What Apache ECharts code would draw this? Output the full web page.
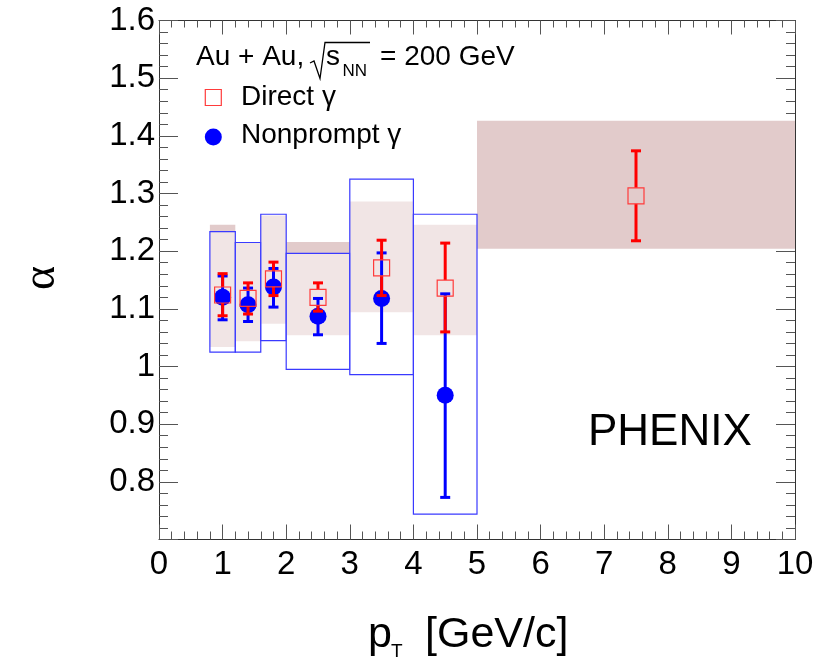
<!DOCTYPE html>
<html>
<head>
<meta charset="utf-8">
<script src="https://cdn.jsdelivr.net/npm/echarts@6/dist/echarts.min.js"></script>
<style>
  html, body { margin: 0; padding: 0; background: #fff; }
  #main { width: 817px; height: 660px; }
</style>
</head>
<body>
<div id="main"></div>
<script>
// pT bins (shared by both measurements)
const binLo = [0.8, 1.2, 1.6, 2.0, 3.0, 4.0, 5.0];
const binHi = [1.2, 1.6, 2.0, 3.0, 4.0, 5.0, 10.0];

// Direct gamma
const dirX = [1.0, 1.4, 1.8, 2.5, 3.5, 4.5, 7.5];
const dirY = [1.124, 1.118, 1.152, 1.120, 1.171, 1.136, 1.296];
const dirErrHi = [1.161, 1.145, 1.181, 1.145, 1.219, 1.214, 1.374];
const dirErrLo = [1.088, 1.091, 1.123, 1.096, 1.123, 1.060, 1.218];
const dirSysHi = [1.246, 1.214, 1.262, 1.216, 1.286, 1.246, 1.426];
const dirSysLo = [1.034, 1.044, 1.074, 1.054, 1.094, 1.054, 1.204];

// Nonprompt gamma
const npX = [1.0, 1.4, 1.8, 2.5, 3.5, 4.5];
const npY = [1.120, 1.107, 1.138, 1.087, 1.118, 0.950];
const npErrHi = [1.157, 1.136, 1.170, 1.118, 1.197, 1.126];
const npErrLo = [1.081, 1.078, 1.103, 1.055, 1.040, 0.773];
const npSysHi = [1.234, 1.215, 1.264, 1.196, 1.325, 1.264];
const npSysLo = [1.025, 1.025, 1.045, 0.995, 0.986, 0.744];

// axis ranges / tick labels
const xMin = 0, xMax = 10, xStep = 1;
const yMin = 0.7, yMax = 1.6, yStep = 0.1;
const yHiddenLabels = ['0.7'];

const FONT = 'Liberation Sans';

const dirBoxes = binLo.map((x0, i) => [x0, binHi[i], dirSysLo[i], dirSysHi[i]]);
const npBoxes = npX.map((x, i) => [binLo[i], binHi[i], npSysLo[i], npSysHi[i]]);
const dirErr = dirX.map((x, i) => [x, dirY[i], dirErrHi[i], dirErrLo[i]]);
const npErr = npX.map((x, i) => [x, npY[i], npErrHi[i], npErrLo[i]]);

function renderBox(fill, stroke) {
  return function (params, api) {
    const a = api.coord([api.value(0), api.value(3)]);
    const b = api.coord([api.value(1), api.value(2)]);
    return {
      type: 'rect',
      shape: { x: a[0], y: a[1], width: b[0] - a[0], height: b[1] - a[1] },
      style: { fill: fill, stroke: stroke, lineWidth: stroke ? 1.2 : 0 }
    };
  };
}

function renderErr(color, gap) {
  return function (params, api) {
    const c = api.coord([api.value(0), api.value(1)]);
    const hi = api.coord([api.value(0), api.value(2)]);
    const lo = api.coord([api.value(0), api.value(3)]);
    const st = { stroke: color, lineWidth: 3 };
    const w = 5;
    return {
      type: 'group',
      children: [
        { type: 'line', shape: { x1: c[0], y1: hi[1], x2: c[0], y2: c[1] - gap }, style: st },
        { type: 'line', shape: { x1: c[0], y1: c[1] + gap, x2: c[0], y2: lo[1] }, style: st },
        { type: 'line', shape: { x1: c[0] - w, y1: hi[1], x2: c[0] + w, y2: hi[1] }, style: st },
        { type: 'line', shape: { x1: c[0] - w, y1: lo[1], x2: c[0] + w, y2: lo[1] }, style: st }
      ]
    };
  };
}

function xAxisCfg(pos) {
  return {
    type: 'value', min: xMin, max: xMax, interval: xStep, position: pos,
    axisLine: { show: true, onZero: false, lineStyle: { color: '#333', width: 1 } },
    axisTick: { show: true, inside: true, length: pos === 'top' ? 14 : 15, lineStyle: { color: '#555' } },
    minorTick: { show: true, splitNumber: 5, length: pos === 'top' ? 7 : 8, lineStyle: { color: '#555' } },
    splitLine: { show: false },
    axisLabel: {
      show: pos === 'bottom', fontSize: 33, fontFamily: FONT, color: '#000', margin: 9
    }
  };
}

function yAxisCfg(pos) {
  return {
    type: 'value', min: yMin, max: yMax, interval: yStep, position: pos,
    axisLine: { show: true, onZero: false, lineStyle: { color: '#333', width: 1 } },
    axisTick: { show: true, inside: true, length: 19, lineStyle: { color: '#555' } },
    minorTick: { show: true, splitNumber: 5, length: 9, lineStyle: { color: '#555' } },
    splitLine: { show: false },
    axisLabel: {
      show: pos === 'left', fontSize: 33, fontFamily: FONT, color: '#000', margin: 4,
      formatter: function (v) {
        const s = (+v).toFixed(1);
        if (yHiddenLabels.indexOf(s) >= 0) return '';
        return s === '1.0' ? '1' : s;
      }
    }
  };
}

const chart = echarts.init(document.getElementById('main'));
chart.setOption({
  animation: false,
  backgroundColor: '#fff',
  grid: { left: 159, right: 22, top: 20.5, bottom: 120.5, containLabel: false, outerBoundsMode: 'none' },
  xAxis: [xAxisCfg('bottom'), xAxisCfg('top')],
  yAxis: [yAxisCfg('left'), yAxisCfg('right')],
  series: [
    {
      type: 'custom', name: 'dirSys', z: 1,
      data: dirBoxes, encode: { x: [0, 1], y: [2, 3] },
      renderItem: renderBox('#e2cbcb', null)
    },
    {
      type: 'custom', name: 'npSys', z: 2,
      data: npBoxes, encode: { x: [0, 1], y: [2, 3] },
      renderItem: renderBox('rgba(255,255,255,0.5)', '#3a3aff')
    },
    {
      type: 'custom', name: 'npErr', z: 3,
      data: npErr, encode: { x: 0, y: [1, 2, 3] },
      renderItem: renderErr('#0000ff', 0)
    },
    {
      type: 'scatter', name: 'Nonprompt', z: 4,
      data: npX.map((x, i) => [x, npY[i]]),
      symbol: 'circle', symbolSize: 17,
      itemStyle: { color: '#0000ff', opacity: 1 }
    },
    {
      type: 'custom', name: 'dirErr', z: 5,
      data: dirErr, encode: { x: 0, y: [1, 2, 3] },
      renderItem: renderErr('#ff0000', 8)
    },
    {
      type: 'scatter', name: 'Direct', z: 6,
      data: dirX.map((x, i) => [x, dirY[i]]),
      symbol: 'rect', symbolSize: 16,
      itemStyle: { color: 'rgba(0,0,0,0)', borderColor: '#ff3b3b', borderWidth: 1.2, opacity: 1 }
    }
  ],
  graphic: [
    // y axis title (rotated like the ROOT axis title)
    { type: 'text', x: 41.5, y: 278, rotation: Math.PI / 2,
      style: { text: 'α', font: '46px "Liberation Serif"', fill: '#000', align: 'center', verticalAlign: 'middle' } },
    // x axis title
    { type: 'text', x: 368, y: 635.4,
      style: { text: 'p', font: '43px "Liberation Sans"', fill: '#000', align: 'left', verticalAlign: 'middle' } },
    { type: 'text', x: 391, y: 651.7,
      style: { text: 'T', font: '19px "Liberation Sans"', fill: '#000', align: 'left', verticalAlign: 'middle' } },
    { type: 'text', x: 425, y: 635.4,
      style: { text: '[GeV/c]', font: '43px "Liberation Sans"', fill: '#000', align: 'left', verticalAlign: 'middle' } },
    // header
    { type: 'text', x: 196, y: 57.5,
      style: { text: 'Au + Au,', font: '28px "Liberation Sans"', fill: '#000', align: 'left', verticalAlign: 'middle' } },
    { type: 'polyline', shape: { points: [[310, 63], [314, 61], [320, 78.5], [325, 42.5], [370, 42.5]] },
      style: { stroke: '#000', lineWidth: 1.3, fill: null } },
    { type: 'text', x: 326, y: 57.5,
      style: { text: 's', font: '28px "Liberation Sans"', fill: '#000', align: 'left', verticalAlign: 'middle' } },
    { type: 'text', x: 342.5, y: 71.4,
      style: { text: 'NN', font: '17px "Liberation Sans"', fill: '#000', align: 'left', verticalAlign: 'middle' } },
    { type: 'text', x: 380, y: 57.5,
      style: { text: '= 200 GeV', font: '28px "Liberation Sans"', fill: '#000', align: 'left', verticalAlign: 'middle' } },
    // legend
    { type: 'rect', shape: { x: 205.3, y: 89.5, width: 16, height: 16 },
      style: { fill: null, stroke: '#ff3b3b', lineWidth: 1.2 } },
    { type: 'text', x: 241, y: 97,
      style: { text: 'Direct γ', font: '28px "Liberation Sans"', fill: '#000', align: 'left', verticalAlign: 'middle' } },
    { type: 'circle', shape: { cx: 213.3, cy: 137, r: 8.5 }, style: { fill: '#0000ff' } },
    { type: 'text', x: 241, y: 135,
      style: { text: 'Nonprompt γ', font: '28px "Liberation Sans"', fill: '#000', align: 'left', verticalAlign: 'middle' } },
    // experiment label
    { type: 'text', x: 588, y: 433,
      style: { text: 'PHENIX', font: '44px "Liberation Sans"', fill: '#000', align: 'left', verticalAlign: 'middle' } }
  ]
});
</script>
</body>
</html>
